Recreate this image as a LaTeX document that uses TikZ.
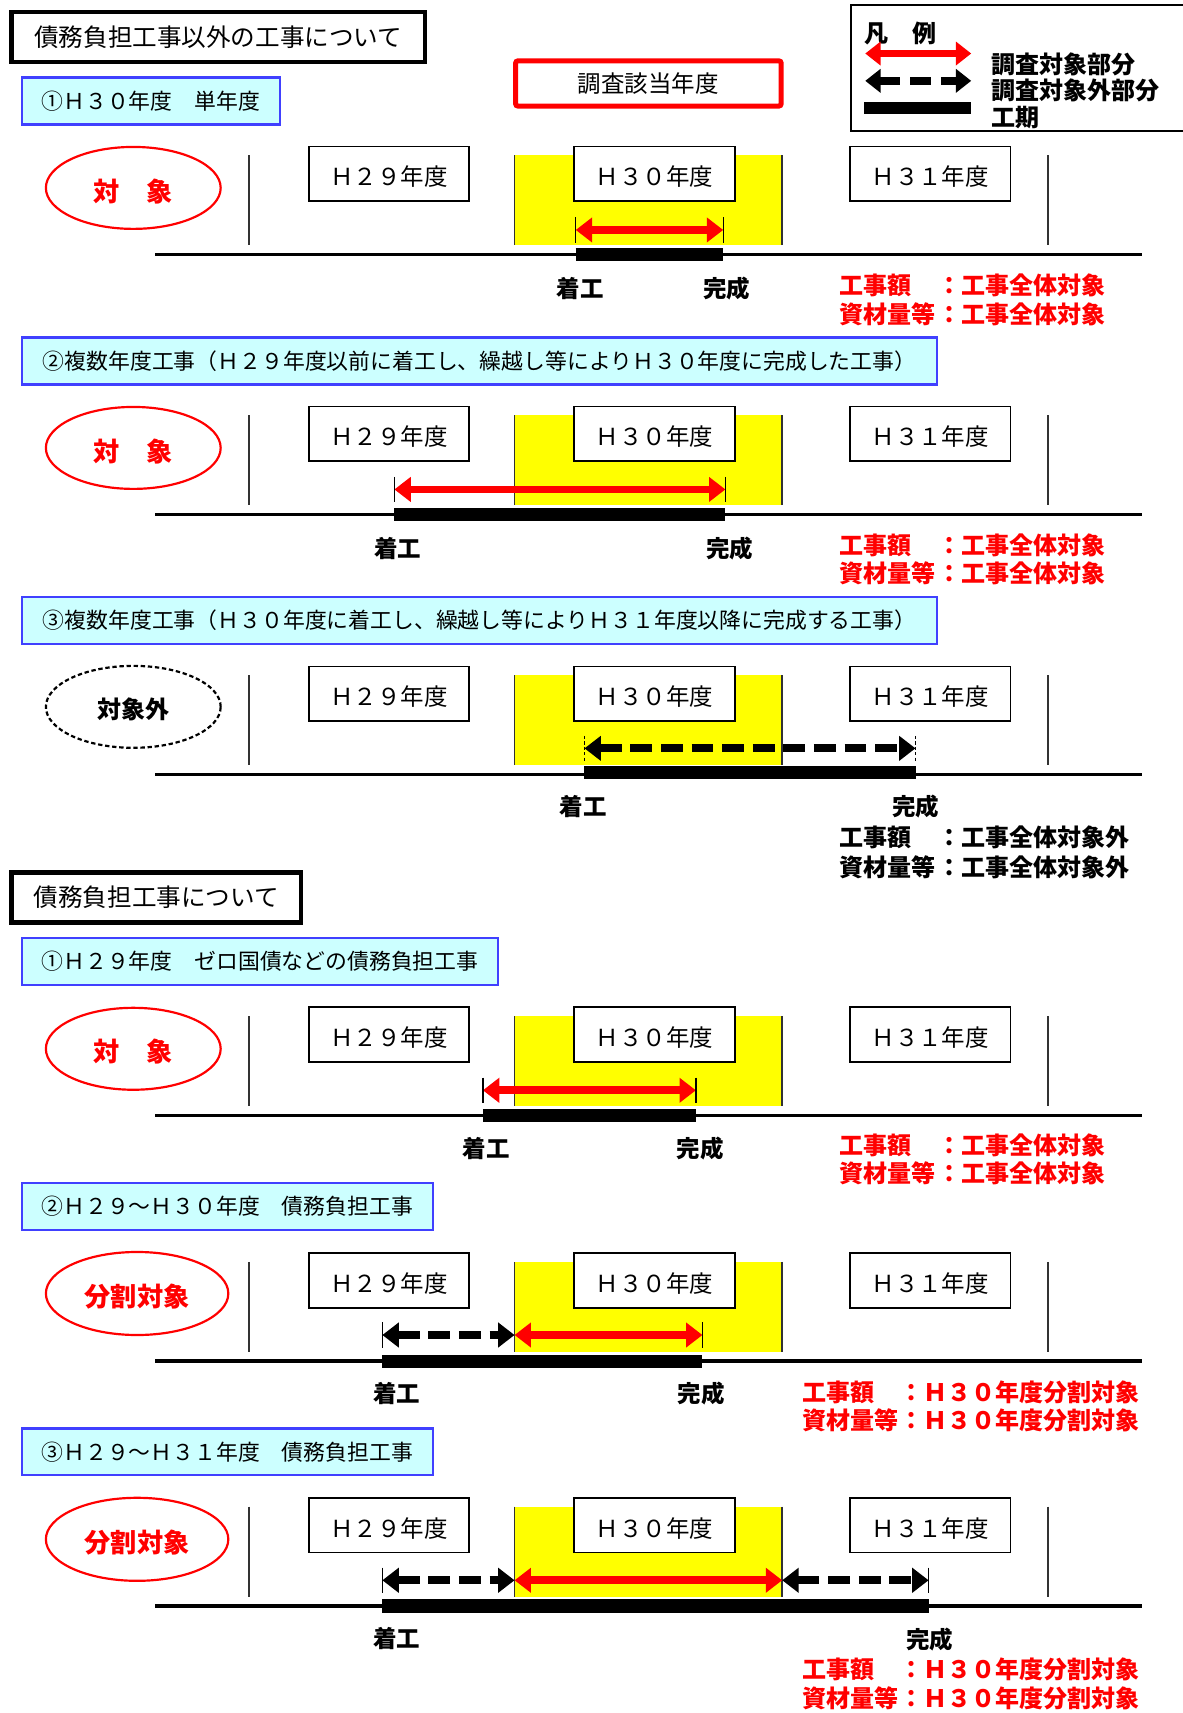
\documentclass[tikz,border=0pt]{standalone}
\usepackage{fontspec}
\setmainfont{Noto Sans CJK JP}
\usetikzlibrary{arrows.meta,shapes.geometric}
\definecolor{lblue}{RGB}{64,64,255}
\definecolor{lcyan}{RGB}{204,255,255}
\definecolor{yel}{RGB}{255,255,0}
\definecolor{ylinec}{RGB}{50,50,50}
\newcommand\fsz[1]{\fontsize{#1pt}{#1pt}\selectfont}
\tikzset{
  yearbox/.style={draw, line width=1.6pt, fill=white, minimum width=147pt, minimum height=50pt, inner sep=0pt, text height=24pt, text depth=2pt, font=\fsz{21.5}},
  sublabel/.style={draw=lblue, fill=lcyan, line width=2pt, minimum height=43pt, inner sep=0pt, anchor=west, font=\fsz{20}},
  headbox/.style={draw, line width=4.2pt, minimum height=46pt, inner sep=0pt, anchor=north west, font=\fsz{22.5}},
  tgt/.style={ellipse, draw=red, line width=2pt, minimum width=160pt, minimum height=75pt, inner sep=0pt, text height=26pt, text depth=2pt, text=red, font=\bfseries\fsz{24}},
  yrline/.style={draw=ylinec, line width=1.5pt},
  tline/.style={line width=3.5pt},
  workbar/.style={line width=12pt},
  redarr/.style={draw=red, line width=7pt, >={Triangle[length=15pt,width=22pt]}, <->},
  blkarr/.style={draw=black, line width=7.5pt, dash pattern=on 20pt off 8pt, >={Triangle[length=15pt,width=22pt]}, <->},
  endtick/.style={line width=1.3pt},
  stagelab/.style={font=\bfseries\fsz{21.5}, inner sep=0pt},
  amtnote/.style={anchor=west, inner sep=0pt, font=\bfseries\fsz{22}},
  legtext/.style={anchor=west, inner sep=0pt, font=\bfseries\fsz{22}},
}
\newcommand\dgrow[2]{%
  \fill[yel] (471,#2-91) rectangle (716,#2-8.5);
  \foreach \xx in {228,471,716,959} {\draw[yrline] (\xx,#2-91) -- (\xx,#2-8.5);}
  \node[yearbox] (#1y29) at (356,#2-74) {Ｈ２９年度};
  \node[yearbox] (#1y30) at (599,#2-74) {Ｈ３０年度};
  \node[yearbox] (#1y31) at (851.5,#2-74) {Ｈ３１年度};
  \coordinate (#1tl) at (142,#2);
  \coordinate (#1tr) at (1045,#2);
  \draw[tline] (#1tl) -- (#1tr);
}
\newcommand\arrtick[2]{\draw[endtick,#2] (#1) ++(0,-11.5) -- ++(0,23);}
\begin{document}
\begin{tikzpicture}[x=1pt,y=-1pt]
\useasboundingbox (0,0) rectangle (1082,1568);

% ---------- headers & legend ----------
\node[headbox, minimum width=378.6pt] (head1) at (8.4,8.8) {債務負担工事以外の工事について};
\node[draw=red, line width=4.6pt, rounded corners=2pt, minimum width=243pt, minimum height=41.3pt, inner sep=0pt, font=\fsz{21.5}] (survey) at (593.5,76.4) {調査該当年度};

\draw[line width=1.8pt] (1090,4.6) -- (779,4.6) -- (779,119.6) -- (1090,119.6);
\node[legtext] (legt) at (791,30.5) {凡　例};
\coordinate (lg1a) at (792,49); \coordinate (lg1b) at (889,49);
\coordinate (lg2a) at (792,74); \coordinate (lg2b) at (889,74);
\coordinate (lg3a) at (791,99); \coordinate (lg3b) at (889,99);
\draw[redarr, line width=6.7pt, >={Triangle[length=14pt,width=21pt]}] (lg1a) -- (lg1b);
\draw[blkarr, line width=7pt, dash pattern=on 19pt off 9pt, >={Triangle[length=14pt,width=21pt]}] (lg2a) -- (lg2b);
\draw[workbar, line width=11pt] (lg3a) -- (lg3b);
\node[legtext] (leg1) at (907,59) {調査対象部分};
\node[legtext] (leg2) at (907,82.5) {調査対象外部分};
\node[legtext] (leg3) at (907,108) {工期};

% ---------- section 1 row 1 ----------
\dgrow{a}{233}
\node[sublabel, minimum width=236pt] (albl) at (19,92.5) {①Ｈ３０年度　単年度};
\node[tgt] (aell) at (122,172) {対　象};
\coordinate (as) at (527,210.5); \coordinate (ae) at (662,210.5);
\draw[redarr] (as) -- (ae);
\arrtick{as}{} \arrtick{ae}{}
\coordinate (abs) at (527,233); \coordinate (abe) at (662,233);
\draw[workbar] (abs) -- (abe);
\node[stagelab] (ast) at (531,264) {着工};
\node[stagelab] (aen) at (665,264) {完成};
\node[amtnote, red] (an1) at (768,261) {\makebox[90pt][l]{工事額　　}：工事全体対象};
\node[amtnote, red] (an2) at (768,288) {\makebox[90pt][l]{資材量等}：工事全体対象};

% ---------- section 1 row 2 ----------
\dgrow{b}{471}
\node[sublabel, minimum width=838pt] (blbl) at (19,330.5) {②複数年度工事（Ｈ２９年度以前に着工し、繰越し等によりＨ３０年度に完成した工事）};
\node[tgt] (bell) at (122,410) {対　象};
\coordinate (bs) at (361,448); \coordinate (be) at (664,448);
\draw[redarr] (bs) -- (be);
\arrtick{bs}{} \arrtick{be}{}
\coordinate (bbs) at (361,471); \coordinate (bbe) at (664,471);
\draw[workbar] (bbs) -- (bbe);
\node[stagelab] (bst) at (364,502) {着工};
\node[stagelab] (ben) at (668,502) {完成};
\node[amtnote, red] (bn1) at (768,499) {\makebox[90pt][l]{工事額　　}：工事全体対象};
\node[amtnote, red] (bn2) at (768,525) {\makebox[90pt][l]{資材量等}：工事全体対象};

% ---------- section 1 row 3 ----------
\dgrow{c}{709}
\node[sublabel, minimum width=838pt] (clbl) at (19,568) {③複数年度工事（Ｈ３０年度に着工し、繰越し等によりＨ３１年度以降に完成する工事）};
\node[tgt, draw=black, dash pattern=on 4pt off 2.5pt, text=black, text height=24pt, font=\bfseries\fsz{22}] (cell) at (122,647) {対象外};
\coordinate (cs) at (535,685); \coordinate (ce) at (838,685);
\draw[blkarr] (cs) -- (ce);
\arrtick{cs}{dash pattern=on 3pt off 2pt} \arrtick{ce}{dash pattern=on 3pt off 2pt}
\coordinate (cbs) at (535,707); \coordinate (cbe) at (838,707);
\draw[workbar] (cbs) -- (cbe);
\node[stagelab] (cst) at (534,738.5) {着工};
\node[stagelab] (cen) at (838,738.5) {完成};
\node[amtnote] (cn1) at (768,766.5) {\makebox[90pt][l]{工事額　　}：工事全体対象外};
\node[amtnote] (cn2) at (768,793.5) {\makebox[90pt][l]{資材量等}：工事全体対象外};

% ---------- section 2 header ----------
\node[headbox, minimum width=265pt] (head2) at (8.4,796.4) {債務負担工事について};

% ---------- section 2 row 1 ----------
\dgrow{d}{1021}
\node[sublabel, minimum width=436pt] (dlbl) at (19,880) {①Ｈ２９年度　ゼロ国債などの債務負担工事};
\node[tgt] (dell) at (122,960) {対　象};
\coordinate (ds) at (442,998); \coordinate (de) at (637,998);
\draw[redarr] (ds) -- (de);
\arrtick{ds}{} \arrtick{de}{}
\coordinate (dbs) at (442,1021); \coordinate (dbe) at (637,1021);
\draw[workbar] (dbs) -- (dbe);
\node[stagelab] (dst) at (445,1051) {着工};
\node[stagelab] (den) at (641,1051) {完成};
\node[amtnote, red] (dn1) at (768,1048) {\makebox[90pt][l]{工事額　　}：工事全体対象};
\node[amtnote, red] (dn2) at (768,1074) {\makebox[90pt][l]{資材量等}：工事全体対象};

% ---------- section 2 row 2 ----------
\dgrow{e}{1246}
\node[sublabel, minimum width=376pt] (elbl) at (19,1104.5) {②Ｈ２９～Ｈ３０年度　債務負担工事};
\node[tgt, minimum width=167pt, minimum height=76pt] (eell) at (125.5,1184) {分割対象};
\coordinate (es) at (350,1222); \coordinate (em) at (471,1222); \coordinate (ee) at (643,1222);
\draw[blkarr] (es) -- (em);
\draw[redarr] (em) -- (ee);
\arrtick{es}{} \arrtick{ee}{}
\coordinate (ebs) at (350,1246); \coordinate (ebe) at (643,1246);
\draw[workbar] (ebs) -- (ebe);
\node[stagelab] (est) at (363,1275.5) {着工};
\node[stagelab] (een) at (642,1276) {完成};
\node[amtnote, red] (en1) at (734,1274.5) {\makebox[89pt][l]{工事額　　}：Ｈ３０年度分割対象};
\node[amtnote, red] (en2) at (734,1300) {\makebox[89pt][l]{資材量等}：Ｈ３０年度分割対象};

% ---------- section 2 row 3 ----------
\dgrow{f}{1470}
\node[sublabel, minimum width=376pt] (flbl) at (19,1329) {③Ｈ２９～Ｈ３１年度　債務負担工事};
\node[tgt, minimum width=167pt, minimum height=76pt] (fell) at (125.5,1409) {分割対象};
\coordinate (fs) at (350,1446.5); \coordinate (fm1) at (471,1446.5); \coordinate (fm2) at (716,1446.5); \coordinate (fe) at (850,1446.5);
\draw[blkarr] (fs) -- (fm1);
\draw[redarr] (fm1) -- (fm2);
\draw[blkarr] (fm2) -- (fe);
\arrtick{fs}{} \arrtick{fe}{}
\coordinate (fbs) at (350,1470); \coordinate (fbe) at (850,1470);
\draw[workbar] (fbs) -- (fbe);
\node[stagelab] (fst) at (363,1500) {着工};
\node[stagelab] (fen) at (851,1501) {完成};
\node[amtnote, red] (fn1) at (734,1528.5) {\makebox[89pt][l]{工事額　　}：Ｈ３０年度分割対象};
\node[amtnote, red] (fn2) at (734,1554.5) {\makebox[89pt][l]{資材量等}：Ｈ３０年度分割対象};
\end{tikzpicture}
\end{document}
